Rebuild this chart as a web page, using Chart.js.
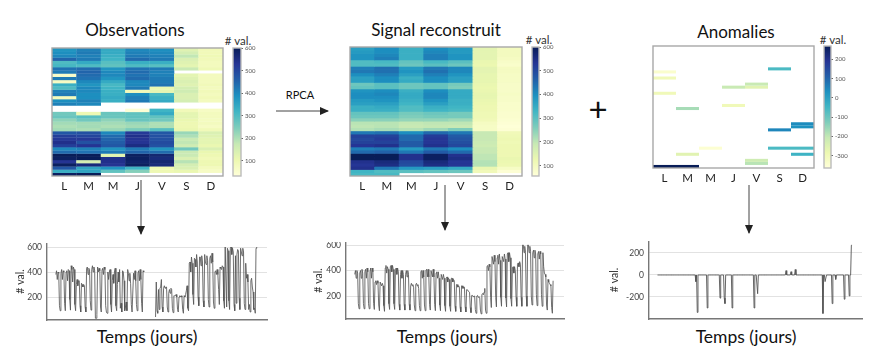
<!DOCTYPE html>
<html><head><meta charset="utf-8">
<script src="https://cdn.jsdelivr.net/npm/chart.js@4"></script>
<style>
html,body{margin:0;padding:0;background:#fff;width:886px;height:362px;overflow:hidden;font-family:Lato,sans-serif;color:#111}
canvas{position:absolute;filter:blur(.4px)}
.t{position:absolute;transform:translate(-50%,-50%);white-space:nowrap}
.title{font-size:17px}
.xl{font-size:17.5px}
.val{font-size:11.5px;color:#333}
svg{position:absolute;left:0;top:0}
</style></head><body>
<svg width="886" height="362">
<defs><marker id="h" markerWidth="9" markerHeight="8" refX="8" refY="4" orient="auto" markerUnits="userSpaceOnUse"><path d="M0 0L9 4L0 8Z" fill="#222"/></marker></defs>
<g stroke="#444" stroke-width="1" fill="none" marker-end="url(#h)">
<line x1="276" y1="111" x2="328" y2="111"/>
<line x1="141" y1="180" x2="141" y2="234"/>
<line x1="445" y1="185" x2="445" y2="230"/>
<line x1="749" y1="185" x2="749" y2="233"/>
</g>
</svg>
<div class="t title" style="left:135px;top:29px">Observations</div>
<div class="t title" style="left:436px;top:29px">Signal reconstruit</div>
<div class="t title" style="left:736px;top:31px">Anomalies</div>
<div class="t val" style="left:238px;top:40px"># val.</div>
<div class="t val" style="left:539px;top:39px"># val.</div>
<div class="t val" style="left:833px;top:39px"># val.</div>
<div class="t" style="left:300px;top:94px;font-size:11px">RPCA</div>
<div class="t" style="left:598px;top:108px;font-size:33px;font-weight:400;color:#111">+</div>
<div class="t xl" style="left:147px;top:336px">Temps (jours)</div>
<div class="t xl" style="left:447px;top:336px">Temps (jours)</div>
<div class="t xl" style="left:746px;top:336px">Temps (jours)</div>
<script>
const n = null;
const days = ['L','M','M','J','V','S','D'];
const obsRows = [
[380,410,340,400,390,130,90],[390,420,340,410,400,150,90],[400,410,330,420,410,180,95],[450,420,320,440,420,140,90],
[300,340,290,330,330,130,80],[310,300,280,300,290,120,80],[430,440,380,430,420,170,95],[420,450,400,440,410,30,30],
[60,440,400,430,410,120,80],[420,430,380,440,420,130,80],[70,400,340,400,420,140,80],[330,380,310,400,430,130,90],
[300,400,320,420,110,150,80],[410,400,330,90,120,160,90],[420,390,330,390,310,140,80],[80,390,340,410,330,140,90],
[390,410,330,420,340,150,80],[410,400,n,n,n,n,n],[n,n,n,n,n,n,n],[n,n,n,40,320,90,70],
[260,100,270,280,340,120,80],[270,290,270,280,280,120,80],[230,260,230,270,260,110,75],[210,210,210,220,200,100,80],
[200,210,200,210,200,100,70],[210,200,220,250,290,110,90],[470,480,400,520,470,220,140],[510,500,440,540,480,200,130],
[520,520,450,530,480,170,120],[540,480,460,530,490,180,120],[510,530,470,550,480,160,110],[400,410,380,420,380,260,140],
[440,430,420,450,440,170,110],[600,600,120,590,570,170,100],[590,600,540,590,560,140,90],[530,150,540,580,570,190,100],
[590,560,530,590,560,150,100],[470,350,380,320,100,140,80],[330,350,280,240,100,110,70],[590,600]];
const recRows = [
[370,400,340,400,380,140,100],[380,400,340,410,380,140,100],[390,410,340,420,390,140,100],[390,420,340,420,390,140,95],
[310,320,290,320,300,130,85],[310,310,280,300,280,125,80],[420,440,380,430,410,140,95],[430,440,390,440,410,140,95],
[400,420,370,420,390,135,90],[370,400,340,400,370,135,90],[370,400,350,400,370,135,90],[280,300,280,290,270,130,85],
[290,300,280,290,260,125,85],[390,400,340,400,350,130,85],[400,410,350,410,350,135,90],[400,400,350,410,350,135,85],
[380,390,340,390,340,130,85],[370,370,330,370,340,125,80],[340,350,310,340,330,120,80],[340,340,310,330,320,120,80],
[290,290,270,280,270,115,75],[280,280,260,270,270,115,75],[250,250,240,240,230,110,70],[205,205,195,200,200,95,65],
[200,205,190,195,190,90,60],[210,220,210,230,260,90,65],[430,440,400,450,430,190,110],[510,510,450,520,470,190,115],
[500,520,450,530,480,190,120],[510,510,470,530,490,185,115],[530,540,470,540,500,180,120],[420,430,380,430,400,190,120],
[450,460,430,470,450,190,120],[600,600,540,590,540,200,120],[600,600,540,590,550,200,130],[540,560,500,560,530,210,125],
[530,550,490,550,530,210,120],[540,430,380,370,350,130,90],[330,310,300,290,280,110,65],[320,320]];
const anoRows = [
[],[],[],[],[],[],[],[n,n,n,n,n,-60,n],
[-340],[],[-300],[],[n,n,n,n,-210],[n,n,n,-210,-260],[],[-300],
[],[],[],[n,n,n,-300],[n,-170],[],[],[],
[],[n,n,n,n,n,n,40],[n,n,n,n,n,n,30],[n,n,n,n,n,50],[],[],[],[],
[],[n,n,-350,n,n,-60,-60],[],[n,-260,n,n,n,n,-40],[],[n,n,n,n,-220],[n,n,n,n,-190],[270,270]];
const obsTicks = [100,200,300,400,500,600];
const anoTicks = [-300,-200,-100,0,100,200];
const lineTicksObs = [200,400,600];
const lineTicksAno = [-200,0,200];
const ramp = ['#ffffd9','#edf8b1','#c7e9b4','#7fcdbb','#41b6c4','#1d91c0','#225ea8','#253494','#081d58'];
Chart.defaults.font.family = 'Lato, sans-serif';
function rgb(h){return [1,3,5].map(i=>parseInt(h.substr(i,2),16));}
function col(v,lo,hi){
  if(v===null||v===undefined||v<lo) return 'rgba(255,255,255,0)';
  const t=Math.min(1,(v-lo)/(hi-lo))*8, i=Math.min(7,Math.floor(t)), f=t-i;
  const a=rgb(ramp[i]),b=rgb(ramp[i+1]);
  return 'rgb('+a.map((c,k)=>Math.round(c+(b[k]-c)*f)).join(',')+')';
}
function canvas(l,t,w,h){const c=document.createElement('canvas');c.width=w;c.height=h;c.style.cssText=`left:${l}px;top:${t}px;width:${w}px;height:${h}px`;document.body.appendChild(c);return c;}
const frame = color => ({id:'frame',afterDatasetsDraw(ch){const a=ch.chartArea,x=ch.ctx;x.save();x.strokeStyle=color;x.lineWidth=1.4;x.strokeRect(a.left,a.top,a.right-a.left,a.bottom-a.top);x.restore();}});
const base = {responsive:false,animation:false,devicePixelRatio:1,plugins:{legend:{display:false},tooltip:{enabled:false}}};
function heat(rows,lo,hi,x0,y0,x1,y1,infl){
  const p=4,c=canvas(x0-p,y0-p,x1-x0+2*p,y1-y0+p+20);
  new Chart(c,{type:'bar',plugins:[frame('#a8a8a8')],data:{labels:days,datasets:rows.map(r=>({
    data:days.map(()=>1),backgroundColor:days.map((d,i)=>col(r[i],lo,hi)),borderWidth:0,inflateAmount:infl,barPercentage:1,categoryPercentage:1}))},
   options:{...base,layout:{padding:{left:p,right:p,top:p,bottom:0}},scales:{
     x:{stacked:true,grid:{display:false,drawTicks:false},border:{display:false},afterFit:s=>{s.height=20},ticks:{color:'#222',font:{size:11.5},padding:3,maxRotation:0,autoSkip:false}},
     y:{stacked:true,display:false,reverse:true,min:0,max:rows.length}}}});
}
function bar(lo,hi,ticks,x0,y0,x1,y1){
  const c=canvas(x0-3,y0-5,x1-x0+3+24,y1-y0+10);
  new Chart(c,{type:'bar',plugins:[frame('#bbbbbb')],data:{labels:[''],datasets:[{data:[[lo,hi]],borderWidth:0,barPercentage:1,categoryPercentage:1,
    backgroundColor(ctx){const a=ctx.chart.chartArea;if(!a)return '#fff';const g=ctx.chart.ctx.createLinearGradient(0,a.bottom,0,a.top);ramp.forEach((r,i)=>g.addColorStop(i/8,r));return g;}}]},
   options:{...base,layout:{padding:{left:3,right:0,top:5,bottom:5}},scales:{
     x:{display:false},
     y:{position:'right',min:lo,max:hi,afterFit:s=>{s.width=24;s.paddingTop=0;s.paddingBottom=0},afterBuildTicks:s=>{s.ticks=ticks.map(v=>({value:v}))},
        grid:{drawOnChartArea:false,tickLength:2,color:'#666'},border:{display:false},ticks:{color:'#555',font:{size:6},padding:2}}}}});
}
function line(series,lo,hi,ticks,axisX,right,top,bottom,w,yw){
  const c=canvas(axisX-yw,top,right-axisX+yw+2,bottom-top+3);
  new Chart(c,{type:'line',data:{datasets:[{data:series.map((y,x)=>({x,y})),borderColor:'#555',borderWidth:w,borderJoinStyle:'bevel',pointRadius:0,tension:0,spanGaps:false}]},
   options:{...base,layout:{padding:{left:0,right:2,top:0,bottom:2}},scales:{
     x:{type:'linear',min:-12,max:288,afterFit:s=>{s.height=1;s.paddingLeft=0;s.paddingRight=0},grid:{display:false,drawTicks:false},ticks:{display:false},border:{color:'#777',width:1.4}},
     y:{min:lo,max:hi,afterFit:s=>{s.width=yw;s.paddingTop=0;s.paddingBottom=0},afterBuildTicks:s=>{s.ticks=ticks.map(v=>({value:v}))},
        title:{display:true,text:'# val.',color:'#333',font:{size:10.5},padding:{top:0,bottom:2}},
        grid:{color:'#e2e2e2',drawTicks:false},border:{color:'#777',width:1.4},ticks:{color:'#444',font:{size:8.5},padding:5}}}}});
}
heat(obsRows,33,600,52,48,223,176,.15);
heat(recRows,56,600,350,47,522,176,.35);
heat(anoRows,-364,270,653,46,814,168,0);
bar(33,600,obsTicks,233,48,241,176);
bar(56,600,obsTicks,532,47,539,176);
bar(-364,270,anoTicks,824,46,831,168);
line(obsRows.flat(),16,632,lineTicksObs,47,267,243,320,.85,33);
line(recRows.flat(),20,624,lineTicksObs,346,564,242,319,.85,34);
const anoSeries=[];anoRows.forEach((r,i)=>{const k=i<anoRows.length-1?7:2;for(let j=0;j<k;j++)anoSeries.push(r[j]||0);});
line(anoSeries,-400,309,lineTicksAno,649,862,241,319,.9,41);
</script>
</body></html>
